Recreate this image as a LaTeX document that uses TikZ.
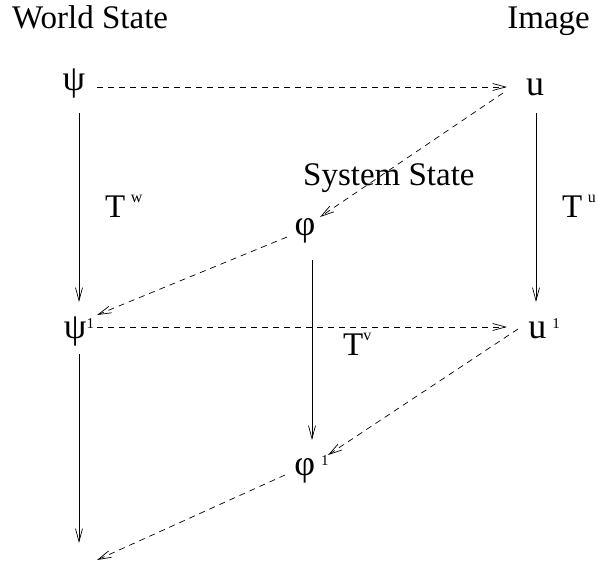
\documentclass[tikz,border=0pt]{standalone}
\usepackage{fontspec}
\setmainfont{Liberation Serif}
\usepackage{tikz}
\usetikzlibrary{arrows.meta,positioning,calc}
\newcommand{\bigtxt}{\fontsize{33}{38}\selectfont}
\newcommand{\symtxt}{\fontsize{36}{40}\selectfont}
\newcommand{\idx}[1]{\raisebox{10pt}{\fontsize{15}{15}\selectfont #1}}
\newcommand{\opsup}[1]{\raisebox{15pt}{\fontsize{16}{16}\selectfont #1}}

\begin{document}
\begin{tikzpicture}[
  x=1pt, y=-1pt,
  title/.style={font=\bigtxt, inner sep=0pt, anchor=base west},
  state/.style={font=\symtxt, inner sep=0pt},
  op/.style={font=\bigtxt, inner sep=0pt, anchor=base west},
  ar/.style={-{Straight Barb[length=13pt, width=7pt]}, line width=0.7pt, draw=black},
  dar/.style={ar, dash pattern=on 6pt off 5pt},
]
  \useasboundingbox (0,0) rectangle (598,566);

  \node[title] (world) at (12,28) {World State};
  \node[title, anchor=base east] (image) at (590,28) {Image};
  \node[title] (system) at (303,185) {System State};

  \node[state] (psi)  at (74,83.5)    {ψ};
  \node[state] (u)    at (535,87.5)   {u};
  \node[state] (phi)  at (305,230.5)  {φ};
  \node[state] (psi1) at (79,331.5)   {ψ\idx{1}};
  \node[state] (u1)   at (544,328.5)  {u\,\idx{1}};
  \node[state] (phi1) at (311.5,469.5) {φ\,\idx{1}};

  \coordinate (wnext) at (79,543);
  \coordinate (snext) at (97,560);

  \node[op] (tw) at (105,217) {T\,\opsup{w}};
  \node[op] (tu) at (562,217) {T\,\opsup{u}};
  \node[op] (tv) at (343,355) {T\opsup{v}};

  \draw[ar] ($(psi)+(5,29.5)$) -- ($(psi1)+(0,-29.5)$);
  \draw[ar] ($(psi1)+(0,22.5)$) -- (wnext);
  \draw[ar] ($(u)+(1,25.5)$) -- ($(u1)+(-8,-26.5)$);
  \draw[ar] ($(phi)+(7,29.5)$) -- ($(phi1)+(0.5,-29.5)$);

  \draw[dar] ($(psi)+(23,3.5)$) -- ($(u)+(-28,-0.5)$);
  \draw[dar] ($(psi1)+(18,-4.5)$) -- ($(u1)+(-37,-1.5)$);
  \draw[dar] ($(u)+(-32,5.5)$) -- ($(phi)+(15,-13.5)$);
  \draw[dar] ($(u1)+(-26,0.5)$) -- ($(phi1)+(16.5,-14.5)$);
  \draw[dar] ($(phi)+(-18,6.5)$) -- ($(psi1)+(18,-16.5)$);
  \draw[dar] ($(phi1)+(-26.5,5.5)$) -- (snext);
\end{tikzpicture}
\end{document}
